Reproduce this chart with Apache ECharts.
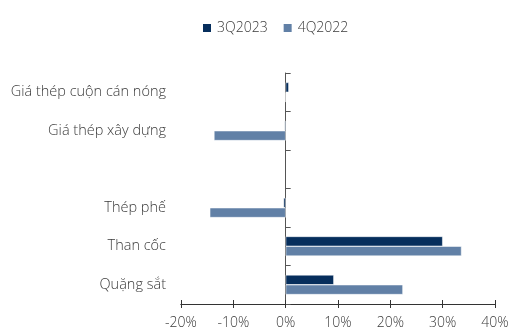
<!DOCTYPE html>
<html><head><meta charset="utf-8">
<script src="https://cdn.jsdelivr.net/npm/echarts@6/dist/echarts.min.js"></script>
<style>html,body{margin:0;padding:0;background:#fff}#c{width:510px;height:331px}</style>
</head><body><div id="c"></div>
<script>
const categories = ['Giá thép cuộn cán nóng', 'Giá thép xây dựng', '', 'Thép phế', 'Than cốc', 'Quặng sắt'];
const s3Q2023 = [0.6, -0.2, null, -0.4, 30.0, 9.2];
const s4Q2022 = [0, -13.7, null, -14.5, 33.6, 22.4];
const xTicks = [-20, -10, 0, 10, 20, 30, 40];

const font = 'Open Sans';
const txt = '#3a3a3a';
const chart = echarts.init(document.getElementById('c'), null, {renderer: 'canvas'});
const xCommon = {
  type: 'value', min: xTicks[0], max: xTicks[xTicks.length - 1], interval: 10,
  position: 'bottom',
  splitLine: {show: false},
  axisLine: {show: true, lineStyle: {color: '#333', width: 1}}
};
chart.setOption({
  animation: false,
  textStyle: {fontFamily: font},
  legend: {
    top: 21, left: 201, padding: 0, itemWidth: 10, itemHeight: 10, itemGap: 14,
    icon: 'rect',
    textStyle: {fontFamily: font, fontSize: 14, color: txt, fontWeight: 300},
    data: ['3Q2023', '4Q2022']
  },
  grid: {left: 181, right: 15, top: 73, bottom: 27, containLabel: false, outerBoundsMode: 'none'},
  xAxis: [
    Object.assign({}, xCommon, {
      axisTick: {show: true, length: 4, lineStyle: {color: '#333'}},
      axisLabel: {formatter: v => v + '%', fontSize: 14, color: txt, fontFamily: font, fontWeight: 300, margin: 12}
    }),
    Object.assign({}, xCommon, {
      axisTick: {show: true, inside: true, length: 4, lineStyle: {color: '#333'}},
      axisLabel: {show: false}
    })
  ],
  yAxis: {
    type: 'category', data: categories, inverse: true,
    axisLine: {show: true, onZero: true, lineStyle: {color: '#555'}},
    axisTick: {show: true, inside: true, length: 5, lineStyle: {color: '#555'}},
    axisLabel: {margin: 15, fontSize: 14.5, color: txt, fontFamily: font, fontWeight: 300}
  },
  series: [
    {name: '3Q2023', type: 'bar', data: s3Q2023, barGap: '0%', barCategoryGap: '49%',
     itemStyle: {color: '#062e5c', borderColor: '#fff', borderWidth: 0.5}},
    {name: '4Q2022', type: 'bar', data: s4Q2022, barGap: '0%', barCategoryGap: '49%',
     itemStyle: {color: '#6180a6', borderColor: '#fff', borderWidth: 0.5}}
  ]
});
</script></body></html>
